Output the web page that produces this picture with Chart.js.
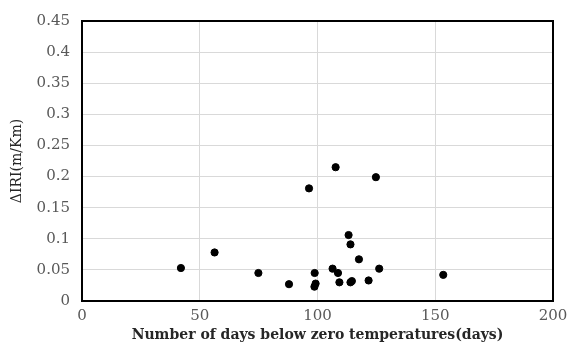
<!DOCTYPE html>
<html>
<head>
<meta charset="utf-8">
<script src="https://cdn.jsdelivr.net/npm/chart.js@4/dist/chart.umd.min.js"></script>
<style>
  html, body { margin: 0; padding: 0; background: #fff; }
  #wrap { width: 578px; height: 344px; }
</style>
</head>
<body>
<div id="wrap"><canvas id="grafik" width="578" height="344"></canvas></div>
<script>
// data
const hariBawahNol = [42, 56.3, 74.9, 87.9, 96.4, 98.8, 99.2, 98.7, 107.7, 106.4, 108.7, 109.3, 113.2, 114.0, 114.0, 114.6, 117.6, 121.7, 124.8, 126.2, 153.4];
const deltaIRI = [0.053, 0.078, 0.045, 0.027, 0.181, 0.045, 0.028, 0.023, 0.215, 0.052, 0.045, 0.030, 0.106, 0.091, 0.030, 0.032, 0.067, 0.033, 0.199, 0.052, 0.042];
const xTicks = [0, 50, 100, 150, 200];
const yTicks = [0, 0.05, 0.1, 0.15, 0.2, 0.25, 0.3, 0.35, 0.4, 0.45];

const titikData = hariBawahNol.map((x, i) => ({ x, y: deltaIRI[i] }));

// garis kotak area plot
const kotakPlot = {
  id: "kotakPlot",
  afterDraw(chart) {
    const { ctx, chartArea: a } = chart;
    ctx.save();
    ctx.strokeStyle = "#000";
    ctx.lineWidth = 2;
    ctx.strokeRect(a.left, a.top, a.right - a.left, a.bottom - a.top);
    ctx.restore();
  }
};

const ctx = document.getElementById("grafik").getContext("2d");
new Chart(ctx, {
  type: "scatter",
  data: {
    datasets: [{
      label: "ΔIRI",
      data: titikData,
      backgroundColor: "#000",
      borderColor: "#000",
      pointRadius: 3.6,
      pointHoverRadius: 3.6
    }]
  },
  options: {
    responsive: false,
    animation: false,
    layout: { padding: { top: 16, right: 25, left: 0, bottom: 0 } },
    plugins: { legend: { display: false }, tooltip: { enabled: false } },
    scales: {
      x: {
        type: "linear",
        min: 0,
        max: 200,
        afterBuildTicks: s => { s.ticks = xTicks.map(v => ({ value: v })); },
        afterFit: s => { s.height = 43; },
        grid: { color: "#d9d9d9", lineWidth: 1, drawTicks: false },
        border: { display: false },
        ticks: {
          padding: 6,
          color: "#595959",
          font: { family: "DejaVu Serif", size: 15 },
          maxRotation: 0
        },
        title: {
          display: true,
          text: "Number of days below zero temperatures(days)",
          color: "#262626",
          font: { family: "DejaVu Serif", size: 14, weight: "bold" },
          padding: { top: 0, bottom: 0 }
        }
      },
      y: {
        min: 0,
        max: 0.45,
        afterBuildTicks: s => { s.ticks = yTicks.map(v => ({ value: v })); },
        afterFit: s => { s.width = 82; },
        grid: { color: "#d9d9d9", lineWidth: 1, drawTicks: false },
        border: { display: false },
        ticks: {
          padding: 12,
          color: "#595959",
          font: { family: "DejaVu Serif", size: 15 },
          callback: v => String(Math.round(v * 100) / 100)
        },
        title: {
          display: true,
          text: "ΔIRI(m/Km)",
          color: "#262626",
          font: { family: "DejaVu Serif", size: 14 },
          padding: { top: 9, bottom: 0 }
        }
      }
    }
  },
  plugins: [kotakPlot]
});
</script>
</body>
</html>
